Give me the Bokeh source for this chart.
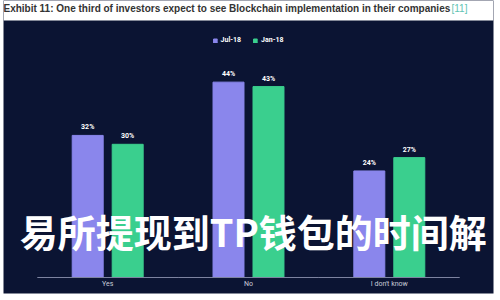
from bokeh.plotting import figure
from bokeh.models import ColumnDataSource, FactorRange, Range1d, Label, BoxAnnotation
from bokeh.transform import dodge
from bokeh.core.properties import value
from bokeh.embed import file_html
from bokeh.resources import INLINE

categories = ["Yes", "No", "I don't know"]
series_names = ["Jul-18", "Jan-18"]
jul18 = [32, 44, 24]
jan18 = [30, 43, 27]
title_text = "Exhibit 11: One third of investors expect to see Blockchain implementation in their companies"
source_ref = "[11]"
watermark = "易所提现到TP钱包的时间解"

BG = "#0b1433"
C_JUL = "#8a86ec"
C_JAN = "#3acf8e"

PX = 4.44          # pixels per percentage point
Y_TOP = 277 / PX   # value at canvas top
Y_PANEL = 257 / PX # value at dark panel top

src = ColumnDataSource(dict(
    x=categories, jul=jul18, jan=jan18,
    jul_lbl=[f"{v}%" for v in jul18], jan_lbl=[f"{v}%" for v in jan18],
))

p = figure(width=500, height=300, output_backend="svg", toolbar_location=None,
           x_range=FactorRange(*categories, range_padding=0.16),
           y_range=Range1d(-16 / PX, Y_TOP),
           min_border_left=3, min_border_right=7, min_border_top=0, min_border_bottom=7)
p.border_fill_color = "white"
p.background_fill_color = BG
p.outline_line_color = None
p.xaxis.visible = False
p.yaxis.visible = False
p.grid.visible = False

# white strip for the heading above the dark panel
p.add_layout(BoxAnnotation(bottom=Y_PANEL, fill_color="white", fill_alpha=1, line_color=None))

bw = 0.22
off = 0.142
p.vbar(x=dodge("x", -off, range=p.x_range), top="jul", width=bw, source=src,
       color=C_JUL, legend_label=series_names[0])
p.vbar(x=dodge("x", off, range=p.x_range), top="jan", width=bw, source=src,
       color=C_JAN, legend_label=series_names[1])

lbl_kw = dict(text_color="white", text_font_size="7px", text_font=value("Roboto"),
              text_font_style="bold", text_align="center", text_baseline="bottom", y_offset=-4)
p.text(x=dodge("x", -off, range=p.x_range), y="jul", text="jul_lbl", source=src, **lbl_kw)
p.text(x=dodge("x", off, range=p.x_range), y="jan", text="jan_lbl", source=src, **lbl_kw)

# axis baseline and category labels
p.segment(x0=dodge("x", -0.5, range=p.x_range), x1=dodge("x", 0.5, range=p.x_range),
          y0=0, y1=0, source=src, line_color="#7d83a0", line_width=1)
p.text(x="x", y=0, text="x", source=src, text_color="#c9cbd8", text_font_size="7px",
       text_font=value("Roboto"), text_align="center", text_baseline="middle", y_offset=6)

# watermark
p.text(x=[categories[0]], y=[0], text=[watermark], x_offset=-88, y_offset=-47,
       text_color="white", text_font=value("Noto Sans CJK SC"), text_font_style="bold",
       text_font_size="38px", text_baseline="middle", text_align="left")

p.legend.location = "top_center"
p.legend.orientation = "horizontal"
p.legend.background_fill_alpha = 0
p.legend.border_line_alpha = 0
p.legend.label_text_color = "white"
p.legend.label_text_font = "Roboto"
p.legend.label_text_font_style = "bold"
p.legend.label_text_font_size = "7px"
p.legend.glyph_width = 5
p.legend.glyph_height = 5
p.legend.label_height = 10
p.legend.label_standoff = 3
p.legend.spacing = 12
p.legend.padding = 0
p.legend.margin = 35

p.add_layout(Label(x=0, y=285.5, x_units="screen", y_units="screen", text=title_text,
                   text_color="#333333", text_font="Liberation Sans", text_font_size="10px",
                   text_font_style="bold", text_baseline="middle"))
p.add_layout(Label(x=448, y=285.5, x_units="screen", y_units="screen", text=source_ref,
                   text_color="#5fc4b4", text_font="Liberation Sans", text_font_size="10px",
                   text_baseline="middle"))

open("out.html", "w").write(file_html(p, INLINE))
